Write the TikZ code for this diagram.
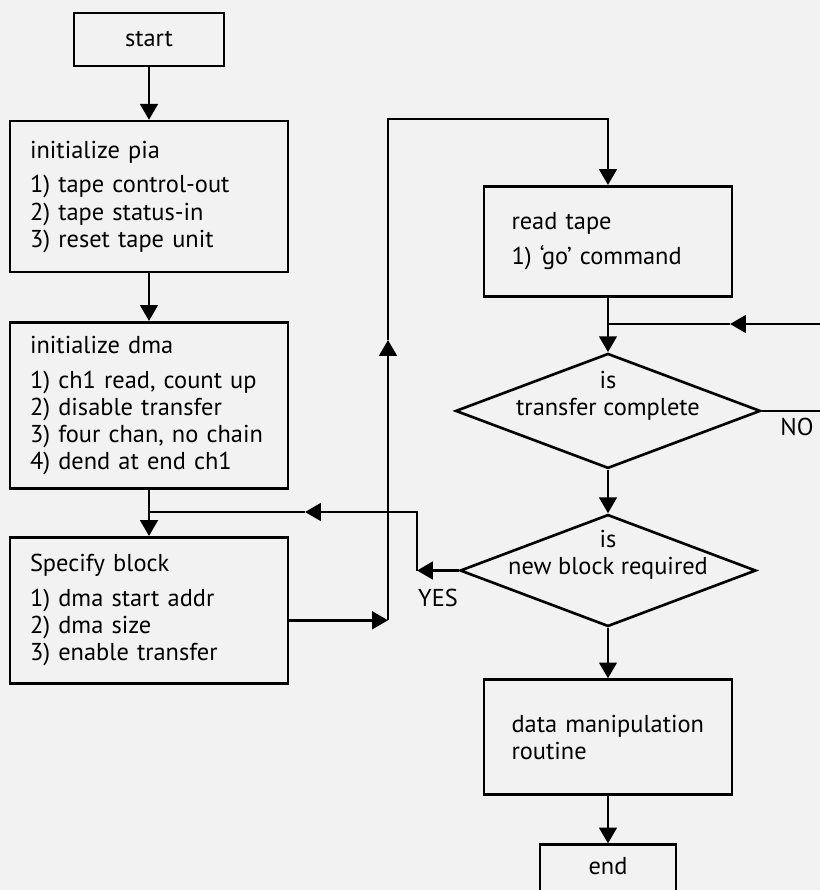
\documentclass[tikz,border=0pt]{standalone}
\usepackage{fontspec}
\setmainfont{PT Sans}
\usetikzlibrary{arrows.meta, positioning, shapes.geometric}
\definecolor{paper}{RGB}{242,242,242}
\newcommand{\flowfont}{\fontsize{13.9}{15.4}\selectfont}
\tikzset{
>={Triangle[length=9pt, width=10pt]}, % filled triangle heads as in the scan
terminal/.style={draw, minimum width=3cm, minimum height=1.06cm}, % start and end boxes
process/.style={draw, align=left, inner xsep=0.4cm, text width=4.76cm}, % boxes of the left column
routine/.style={process, inner xsep=0.55cm, text width=3.86cm}, % boxes of the right column
decision/.style={diamond, draw, inner sep=0pt, minimum width=6.1cm, minimum height=2.3cm}, % the two questions
}

\begin{document}
\begin{tikzpicture}[x=0.02cm, y=0.02cm, font=\flowfont, line width=1.5pt]
      \fill[paper, use as bounding box] (0,0) rectangle (820,-890);

      \node[terminal] (start) at (149,-39.5) {start};
      \node[process, minimum height=3.02cm, below=1.05cm of start] (pia) {initialize pia\\[4.5pt] 1) tape control-out\\ 2) tape status-in\\ 3) reset tape unit};
      \node[process, minimum height=3.32cm, below=0.95cm of pia] (dma) {initialize dma\\[4.5pt] 1) ch1 read, count up\\ 2) disable transfer\\ 3) four chan, no chain\\ 4) dend at end ch1};
      \node[process, minimum height=2.92cm, below=0.93cm of dma] (block) {Specify block\\[4.5pt] 1) dma start addr\\ 2) dma size\\ 3) enable transfer};
      \node[routine, minimum height=2.2cm, anchor=north] (read) at (608,-185) {read tape\\[4.5pt] 1) ‘go’ command};
      \node[decision, below=1.09cm of read, label={[align=center, yshift=0.3cm]center:{is\\transfer complete}}] (done) {};
      \node[decision, minimum width=5.92cm, minimum height=2.24cm, below=0.87cm of done, label={[align=center, yshift=0.32cm]center:{is\\new block required}}] (newblk) {};
      \node[routine, minimum height=2.3cm, below=1.01cm of newblk] (data) {data manipulation\\routine};
      \node[terminal, minimum width=2.72cm, minimum height=1cm, text depth=0.15cm, below=0.95cm of data] (stop) {end};
      \node (no) at (797,-427) {NO};
      \node (yes) at (438,-598) {YES};

      \coordinate (loopleft) at (388,-119);
      \coordinate (loopup) at (388,-340);
      \coordinate (nocorner) at (826,-324);
      \coordinate (noarrow) at (730,-324);
      \coordinate (yescorner) at (417,-512);
      \coordinate (yesarrow) at (305,-512);

      \draw[->] (start) -- (pia);
      \draw[->] (pia) -- (dma);
      \draw[->] (dma) -- (block);
      \draw[->] ([yshift=-0.2cm]block.east) -- ([yshift=-0.2cm]block.east -| loopup);
      \draw[->] ([yshift=-0.2cm]block.east -| loopup) -- (loopup);
      \draw[->] (loopup) -- (loopleft) -| (read);
      \draw[->] (read) -- (done);
      \draw[->] (done.east) -| (nocorner) -- (noarrow);
      \draw (noarrow) -- (noarrow -| read.south);
      \draw[->] (done) -- (newblk);
      \draw[->] (newblk.west) -- (newblk.west -| yescorner);
      \draw[->] (newblk.west -| yescorner) -- (yescorner) -- (yesarrow);
      \draw (yesarrow) -- (yesarrow -| dma.south);
      \draw[->] (newblk) -- (data);
      \draw[->] (data) -- (stop);
    \end{tikzpicture}
\end{document}
